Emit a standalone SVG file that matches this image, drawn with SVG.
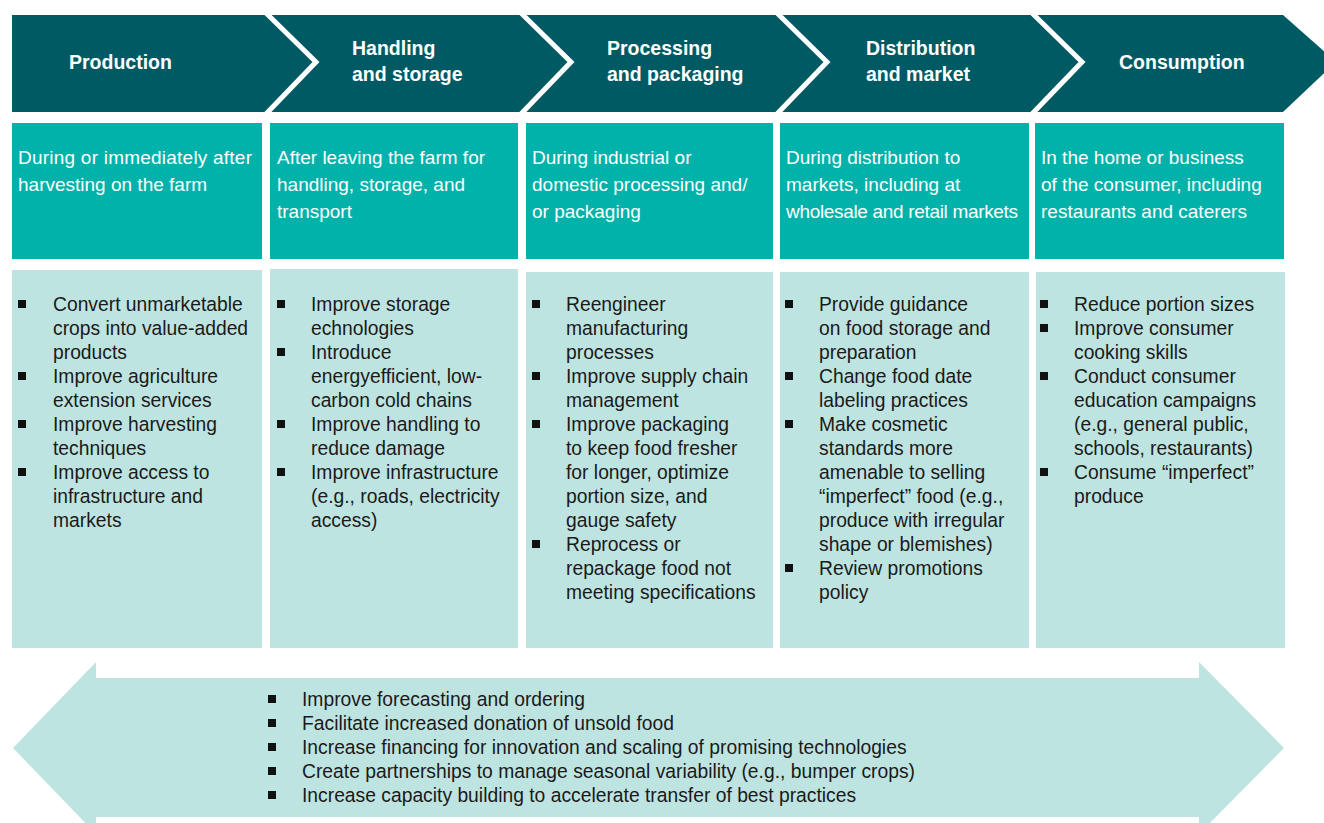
<svg xmlns="http://www.w3.org/2000/svg" width="1324" height="823" viewBox="0 0 1324 823">
<style>
.hdr{fill:#005A63}
.sep{fill:none;stroke:#ffffff;stroke-width:5}
.mid{fill:#00B2A9}
.low{fill:#BEE4E1}
.ttl{font-family:"Liberation Sans",Arial,sans-serif;font-weight:bold;font-size:19.5px;fill:#ffffff}
.desc{font-family:"Liberation Sans",Arial,sans-serif;font-size:19px;fill:#ffffff}
.item{font-family:"Liberation Sans",Arial,sans-serif;font-size:19.3px;fill:#1a1a1a}
.bul{fill:#111111}
</style>
<rect width="1324" height="823" fill="#ffffff"/>

<g id="header">
  <polygon class="hdr" points="12,15 1283,15 1336,62 1283,112 12,112"/>
</g>

<g id="connectors">
  <polyline class="sep" points="265,12 316,62 265,115"/>
  <polyline class="sep" points="520,12 571,62 520,115"/>
  <polyline class="sep" points="776,12 827,62 776,115"/>
  <polyline class="sep" points="1031,12 1082,62 1031,115"/>
</g>

<g id="stage-production">
  <text class="ttl" x="69" y="69">Production</text>
</g>
<g id="stage-handling">
  <text class="ttl" x="352" y="55">Handling</text>
  <text class="ttl" x="352" y="81">and storage</text>
</g>
<g id="stage-processing">
  <text class="ttl" x="607" y="55">Processing</text>
  <text class="ttl" x="607" y="81">and packaging</text>
</g>
<g id="stage-distribution">
  <text class="ttl" x="866" y="55">Distribution</text>
  <text class="ttl" x="866" y="81">and market</text>
</g>
<g id="stage-consumption">
  <text class="ttl" x="1119" y="69">Consumption</text>
</g>

<g id="desc-production">
  <rect class="mid" x="12" y="123" width="250" height="136"/>
  <text class="desc" x="18" y="164" textLength="234">During or immediately after</text>
  <text class="desc" x="18" y="191">harvesting on the farm</text>
</g>
<g id="desc-handling">
  <rect class="mid" x="270" y="123" width="248" height="136"/>
  <text class="desc" x="277" y="164">After leaving the farm for</text>
  <text class="desc" x="277" y="191">handling, storage, and</text>
  <text class="desc" x="277" y="218">transport</text>
</g>
<g id="desc-processing">
  <rect class="mid" x="526" y="123" width="247" height="136"/>
  <text class="desc" x="532" y="164">During industrial or</text>
  <text class="desc" x="532" y="191">domestic processing and/</text>
  <text class="desc" x="532" y="218">or packaging</text>
</g>
<g id="desc-distribution">
  <rect class="mid" x="780" y="123" width="249" height="136"/>
  <text class="desc" x="786" y="164">During distribution to</text>
  <text class="desc" x="786" y="191">markets, including at</text>
  <text class="desc" x="786" y="218" textLength="232">wholesale and retail markets</text>
</g>
<g id="desc-consumption">
  <rect class="mid" x="1035" y="123" width="249" height="136"/>
  <text class="desc" x="1041" y="164">In the home or business</text>
  <text class="desc" x="1041" y="191">of the consumer, including</text>
  <text class="desc" x="1041" y="218">restaurants and caterers</text>
</g>

<g id="actions-production">
  <rect class="low" x="12" y="270" width="250" height="378"/>
  <rect class="bul" x="18" y="300" width="8" height="8"/>
  <rect class="bul" x="18" y="372" width="8" height="8"/>
  <rect class="bul" x="18" y="420" width="8" height="8"/>
  <rect class="bul" x="18" y="468" width="8" height="8"/>
  <text class="item" x="53" y="311">Convert unmarketable</text>
  <text class="item" x="53" y="335">crops into value-added</text>
  <text class="item" x="53" y="359">products</text>
  <text class="item" x="53" y="383">Improve agriculture</text>
  <text class="item" x="53" y="407">extension services</text>
  <text class="item" x="53" y="431">Improve harvesting</text>
  <text class="item" x="53" y="455">techniques</text>
  <text class="item" x="53" y="479">Improve access to</text>
  <text class="item" x="53" y="503">infrastructure and</text>
  <text class="item" x="53" y="527">markets</text>
</g>
<g id="actions-handling">
  <rect class="low" x="270" y="269" width="248" height="379"/>
  <rect class="bul" x="277" y="300" width="8" height="8"/>
  <rect class="bul" x="277" y="348" width="8" height="8"/>
  <rect class="bul" x="277" y="420" width="8" height="8"/>
  <rect class="bul" x="277" y="468" width="8" height="8"/>
  <text class="item" x="311" y="311">Improve storage</text>
  <text class="item" x="311" y="335">echnologies</text>
  <text class="item" x="311" y="359">Introduce</text>
  <text class="item" x="311" y="383">energyefficient, low-</text>
  <text class="item" x="311" y="407">carbon cold chains</text>
  <text class="item" x="311" y="431">Improve handling to</text>
  <text class="item" x="311" y="455">reduce damage</text>
  <text class="item" x="311" y="479">Improve infrastructure</text>
  <text class="item" x="311" y="503">(e.g., roads, electricity</text>
  <text class="item" x="311" y="527">access)</text>
</g>
<g id="actions-processing">
  <rect class="low" x="526" y="272" width="247" height="376"/>
  <rect class="bul" x="532" y="300" width="8" height="8"/>
  <rect class="bul" x="532" y="372" width="8" height="8"/>
  <rect class="bul" x="532" y="420" width="8" height="8"/>
  <rect class="bul" x="532" y="540" width="8" height="8"/>
  <text class="item" x="566" y="311">Reengineer</text>
  <text class="item" x="566" y="335">manufacturing</text>
  <text class="item" x="566" y="359">processes</text>
  <text class="item" x="566" y="383">Improve supply chain</text>
  <text class="item" x="566" y="407">management</text>
  <text class="item" x="566" y="431">Improve packaging</text>
  <text class="item" x="566" y="455">to keep food fresher</text>
  <text class="item" x="566" y="479">for longer, optimize</text>
  <text class="item" x="566" y="503">portion size, and</text>
  <text class="item" x="566" y="527">gauge safety</text>
  <text class="item" x="566" y="551">Reprocess or</text>
  <text class="item" x="566" y="575">repackage food not</text>
  <text class="item" x="566" y="599">meeting specifications</text>
</g>
<g id="actions-distribution">
  <rect class="low" x="780" y="272" width="249" height="376"/>
  <rect class="bul" x="785" y="300" width="8" height="8"/>
  <rect class="bul" x="785" y="372" width="8" height="8"/>
  <rect class="bul" x="785" y="420" width="8" height="8"/>
  <rect class="bul" x="785" y="564" width="8" height="8"/>
  <text class="item" x="819" y="311">Provide guidance</text>
  <text class="item" x="819" y="335">on food storage and</text>
  <text class="item" x="819" y="359">preparation</text>
  <text class="item" x="819" y="383">Change food date</text>
  <text class="item" x="819" y="407">labeling practices</text>
  <text class="item" x="819" y="431">Make cosmetic</text>
  <text class="item" x="819" y="455">standards more</text>
  <text class="item" x="819" y="479">amenable to selling</text>
  <text class="item" x="819" y="503">“imperfect” food (e.g.,</text>
  <text class="item" x="819" y="527">produce with irregular</text>
  <text class="item" x="819" y="551">shape or blemishes)</text>
  <text class="item" x="819" y="575">Review promotions</text>
  <text class="item" x="819" y="599">policy</text>
</g>
<g id="actions-consumption">
  <rect class="low" x="1036" y="272" width="249" height="376"/>
  <rect class="bul" x="1040" y="300" width="8" height="8"/>
  <rect class="bul" x="1040" y="324" width="8" height="8"/>
  <rect class="bul" x="1040" y="372" width="8" height="8"/>
  <rect class="bul" x="1040" y="468" width="8" height="8"/>
  <text class="item" x="1074" y="311">Reduce portion sizes</text>
  <text class="item" x="1074" y="335">Improve consumer</text>
  <text class="item" x="1074" y="359">cooking skills</text>
  <text class="item" x="1074" y="383">Conduct consumer</text>
  <text class="item" x="1074" y="407">education campaigns</text>
  <text class="item" x="1074" y="431">(e.g., general public,</text>
  <text class="item" x="1074" y="455">schools, restaurants)</text>
  <text class="item" x="1074" y="479">Consume “imperfect”</text>
  <text class="item" x="1074" y="503">produce</text>
</g>

<g id="cross-cutting">
  <polygon class="low" points="13,748 96,662 96,678 1199,678 1199,662 1284,748 1199,834 1199,817 96,817 96,834"/>
  <rect class="bul" x="268" y="695" width="8" height="8"/>
  <rect class="bul" x="268" y="719" width="8" height="8"/>
  <rect class="bul" x="268" y="743" width="8" height="8"/>
  <rect class="bul" x="268" y="767" width="8" height="8"/>
  <rect class="bul" x="268" y="791" width="8" height="8"/>
  <text class="item" x="302" y="706">Improve forecasting and ordering</text>
  <text class="item" x="302" y="730">Facilitate increased donation of unsold food</text>
  <text class="item" x="302" y="754">Increase financing for innovation and scaling of promising technologies</text>
  <text class="item" x="302" y="778">Create partnerships to manage seasonal variability (e.g., bumper crops)</text>
  <text class="item" x="302" y="802">Increase capacity building to accelerate transfer of best practices</text>
</g>
</svg>
